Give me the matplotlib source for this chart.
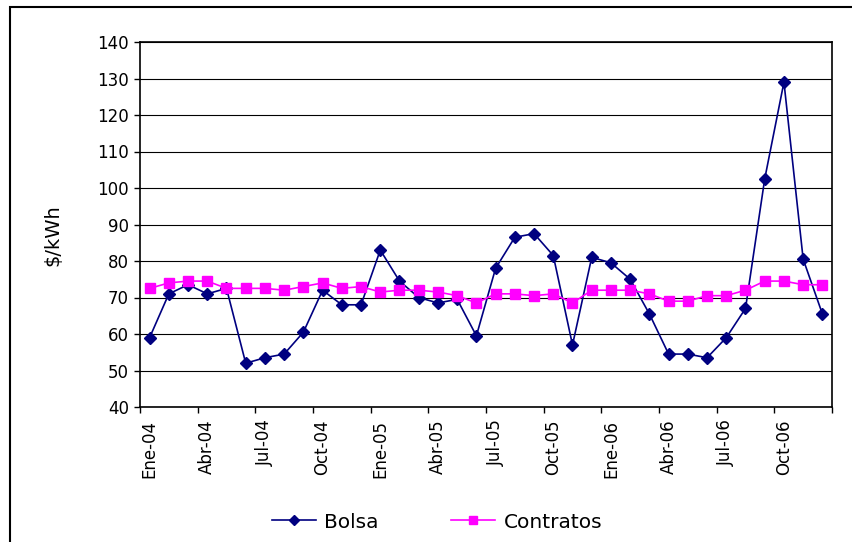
import matplotlib
matplotlib.use("Agg")
import matplotlib.pyplot as plt
from matplotlib.patches import Rectangle
import numpy as np

plt.rcParams['font.family'] = ['DejaVu Sans']

months = ['Ene', 'Feb', 'Mar', 'Abr', 'May', 'Jun', 'Jul', 'Ago', 'Sep', 'Oct', 'Nov', 'Dic']
years = ['04', '05', '06']
labels = [m + '-' + y for y in years for m in months]

bolsa = [59, 71, 73.5, 71, 72.5, 52, 53.5, 54.5, 60.5, 72, 68, 68,
         83, 74.5, 70, 68.5, 69.5, 59.5, 78, 86.5, 87.5, 81.5, 57, 81,
         79.5, 75, 65.5, 54.5, 54.5, 53.5, 59, 67, 102.5, 129, 80.5, 65.5]
contratos = [72.5, 74, 74.5, 74.5, 72.5, 72.5, 72.5, 72, 73, 74, 72.5, 73,
             71.5, 72, 72, 71.5, 70.5, 68.5, 71, 71, 70.5, 71, 68.5, 72,
             72, 72, 71, 69, 69, 70.5, 70.5, 72, 74.5, 74.5, 73.5, 73.5]

W, H = 853, 542
fig = plt.figure(figsize=(W / 100, H / 100), dpi=100)
ax = fig.add_axes([140 / W, 1 - 407 / H, (832 - 140) / W, (407 - 42) / H])

x = np.arange(len(bolsa)) + 0.5
ax.plot(x, bolsa, '-D', color='#000080', linewidth=1.2, markersize=6.5, label='Bolsa')
ax.plot(x, contratos, '-s', color='#FF00FF', linewidth=1.2, markersize=6.5, label='Contratos')

ax.set_xlim(0, 36)
ax.set_ylim(40, 140)
ax.set_yticks(np.arange(40, 141, 10))
ax.yaxis.grid(True, color='black', linewidth=0.8)
ax.set_axisbelow(True)

ax.set_xticks(np.arange(0, 37, 3))
ax.set_xticklabels([])
ax.set_xticks(np.arange(0, 36, 3) + 0.5, minor=True)
ax.set_xticklabels(labels[::3], minor=True, rotation=90, va='top', ha='center')
ax.tick_params(axis='x', which='minor', length=0, pad=9, labelsize=12)
ax.tick_params(axis='x', which='major', length=4, width=1, direction='out')
ax.tick_params(axis='y', length=4, width=1, direction='out', labelsize=12, pad=4)

for s in ax.spines.values():
    s.set_linewidth(1.2)
    s.set_color('black')

ax.set_ylabel('$/kWh', fontsize=14)
ax.yaxis.set_label_coords((62 - 140) / 692, (407 - 235) / 365)

fig.legend(loc='center', bbox_to_anchor=(437 / W, 1 - 522 / H), ncol=2,
           frameon=False, fontsize=14.5, handlelength=2.2, columnspacing=3.6,
           handletextpad=0.4, markerscale=0.8)

fig.patches.append(Rectangle((10 / W, -0.05), 1.1, 1 - 7 / H + 0.05,
                             transform=fig.transFigure, fill=False,
                             edgecolor='black', linewidth=1.5))

fig.savefig('out.png', dpi=100)
